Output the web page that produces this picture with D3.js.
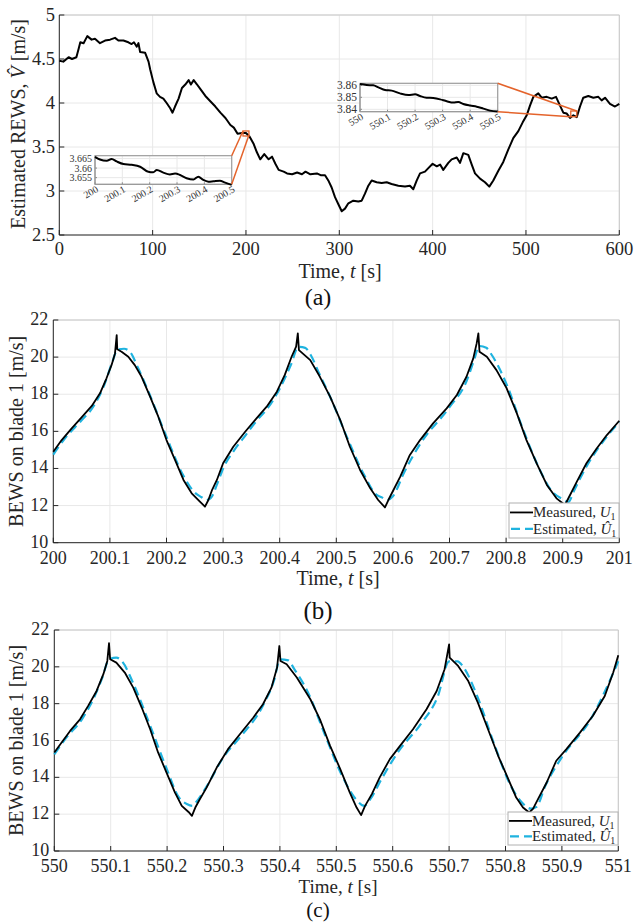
<!DOCTYPE html>
<html><head><meta charset="utf-8">
<script src="https://cdn.jsdelivr.net/npm/d3@7"></script>
<style>body{margin:0;background:#fff}svg{display:block}</style>
</head><body>
<svg id="c" width="635" height="922"></svg>
<script>
// ---------- DATA ----------
// Panel (a): estimated REWS over 600 s
const aTime = [0,4.3,10,13.6,18.3,20.8,22.5,26,30,34.6,38.2,43.6,49,54.4,59.7,63.3,68.7,74,77.5,80,83,84.8,86.6,92,95.6,97.4,100.7,104.3,107.9,111.5,115,118.8,121.3,124,127.8,131.4,135,138.6,141,144,147.6,151,156.5,161.8,167.2,172.6,178,183.3,187,191,195.7,200,203.8,208,211.7,215.3,219.6,224.3,227.9,231.5,235,240.4,244,249.5,254.8,260,263.8,269,276,280,284.7,288.2,291.8,295.4,299,302.6,306.1,309.7,315,320.4,324,327.5,331.1,334.7,340,345.4,350.8,356,363.2,370.4,375.7,379.3,383,386.5,391.8,395.4,400,404.4,408,411.4,416.8,420.4,425.8,429.3,432.9,438.2,441.9,445.4,450.8,456.1,460.7,465,470.4,475.7,481,486.4,491.8,496.5,500.8,504.3,507.9,513.2,516.8,522.2,527.6,532.2,536.5,540,543.7,547.2,550.8,554.4,557.9,561.4,566.8,572.2,577.5,581.1,584.7,590,595.4,600];
const aREWS = [4.48,4.47,4.52,4.50,4.52,4.62,4.69,4.68,4.76,4.72,4.73,4.68,4.71,4.72,4.74,4.71,4.71,4.69,4.67,4.69,4.64,4.68,4.58,4.57,4.47,4.38,4.24,4.11,4.07,4.05,4.00,3.94,3.89,3.96,4.05,4.17,4.21,4.26,4.21,4.26,4.21,4.16,4.08,4.02,3.96,3.89,3.83,3.75,3.72,3.65,3.66,3.66,3.62,3.54,3.44,3.36,3.42,3.36,3.39,3.31,3.24,3.22,3.20,3.19,3.21,3.19,3.22,3.19,3.20,3.18,3.18,3.12,3.04,2.93,2.85,2.77,2.80,2.86,2.89,2.88,2.89,2.97,3.06,3.12,3.10,3.09,3.10,3.08,3.06,3.05,3.06,3.02,3.12,3.20,3.22,3.26,3.31,3.28,3.30,3.24,3.32,3.36,3.38,3.32,3.43,3.41,3.30,3.20,3.14,3.10,3.05,3.12,3.23,3.33,3.47,3.60,3.68,3.78,3.86,3.97,4.07,4.11,4.06,4.07,4.05,4.07,3.97,3.89,3.88,3.83,3.86,3.84,3.96,4.06,4.08,4.06,4.07,4.03,4.06,3.99,3.96,3.99];
const aXTicks = [0,100,200,300,400,500,600];
const aYTicks = [2.5,3,3.5,4,4.5,5];

// Inset 1 (200-200.5 s)
const in1Time = [200,200.018,200.043,200.061,200.079,200.104,200.134,200.165,200.195,200.213,200.226,200.250,200.274,200.293,200.311,200.335,200.360,200.378,200.396,200.415,200.433,200.457,200.476,200.5];
const in1REWS = [3.6659,3.6645,3.6638,3.6648,3.6635,3.6621,3.6617,3.6607,3.6581,3.6578,3.6590,3.6576,3.6567,3.6571,3.6564,3.6547,3.6540,3.6555,3.6538,3.6529,3.6531,3.6534,3.6524,3.6512];
const in1XTicks = [200,200.1,200.2,200.3,200.4,200.5];
const in1XLabels = ["200","200.1","200.2","200.3","200.4","200.5"];
const in1YTicks = [3.655,3.66,3.665];
const in1YLabels = ["3.655","3.66","3.665"];

// Inset 2 (550-550.5 s)
const in2Time = [550,550.024,550.048,550.067,550.091,550.115,550.145,550.176,550.200,550.218,550.242,550.266,550.291,550.315,550.339,550.357,550.375,550.400,550.424,550.448,550.472,550.5];
const in2REWS = [3.8611,3.8603,3.8600,3.8583,3.8561,3.8556,3.8533,3.8519,3.8525,3.8511,3.8497,3.8494,3.8483,3.8467,3.8456,3.8461,3.8444,3.8431,3.8422,3.8406,3.8389,3.8381];
const in2XTicks = [550,550.1,550.2,550.3,550.4,550.5];
const in2XLabels = ["550","550.1","550.2","550.3","550.4","550.5"];
const in2YTicks = [3.84,3.85,3.86];
const in2YLabels = ["3.84","3.85","3.86"];

// zoom-region marks on panel (a): [tmin,tmax,vmin,vmax]
const zoomBox1 = [196.8,203.2,3.625,3.682];
const zoomBox2 = [548,554.4,3.844,3.909];

// Panel (b)
const bMeasT = [200,200.0148,200.0325,200.05,200.068,200.0825,200.094,200.103,200.109,200.112,200.113,200.1206,200.1325,200.144,200.156,200.171,200.1855,200.2,200.215,200.23,200.2445,200.259,200.268,200.274,200.28,200.289,200.3,200.318,200.339,200.359,200.377,200.395,200.409,200.421,200.429,200.432,200.434,200.454,200.471,200.489,200.507,200.524,200.542,200.56,200.574,200.586,200.592,200.601,200.613,200.63,200.648,200.671,200.695,200.713,200.73,200.742,200.748,200.751,200.753,200.766,200.783,200.801,200.819,200.836,200.854,200.872,200.889,200.904,200.913,200.925,200.942,200.96,200.978,201];
const bMeasV = [14.9,15.53,16.16,16.75,17.37,18.05,18.86,19.58,20.2,21.19,20.42,20.29,20.02,19.57,18.94,17.87,16.79,15.53,14.46,13.38,12.66,12.21,11.94,12.3,12.8,13.38,14.28,15.17,15.98,16.7,17.33,18.14,19.04,20.02,20.56,21.28,20.38,19.84,18.94,17.87,16.61,15.17,13.92,12.93,12.3,11.9,12.3,12.84,13.56,14.73,15.53,16.43,17.24,17.96,18.94,19.93,20.74,21.28,20.29,20.02,19.3,18.32,16.97,15.53,14.28,13.11,12.39,12.03,12.57,13.29,14.28,15.08,15.8,16.57];
const bEstT = [200,200.02,200.05,200.07,200.09,200.105,200.113,200.125,200.135,200.15,200.17,200.2,200.23,200.25,200.262,200.27,200.278,200.29,200.3,200.32,200.34,200.36,200.38,200.4,200.42,200.433,200.445,200.455,200.47,200.49,200.52,200.55,200.57,200.58,200.59,200.6,200.62,200.65,200.7,200.73,200.745,200.752,200.765,200.775,200.8,200.83,200.86,200.88,200.9,200.91,200.92,200.94,200.97,201];
const bEstV = [14.75,15.6,16.6,17.3,18.5,19.8,20.4,20.45,20.3,19.4,18.0,15.7,13.6,12.7,12.45,12.3,12.4,13.2,14.0,15.0,15.8,16.6,17.3,18.3,19.6,20.55,20.5,20.1,19.1,17.8,15.6,13.6,12.6,12.45,12.3,12.5,13.8,15.4,17.3,18.7,20.0,20.6,20.5,20.1,18.6,16.1,13.9,12.8,12.35,12.2,12.8,14.0,15.4,16.5];
const bXTicks = [200,200.1,200.2,200.3,200.4,200.5,200.6,200.7,200.8,200.9,201];
const bXLabels = ["200","200.1","200.2","200.3","200.4","200.5","200.6","200.7","200.8","200.9","201"];

// Panel (c)
const cMeasT = [550,550.013,550.028,550.0456,550.06,550.075,550.087,550.094,550.097,550.099,550.11,550.125,550.14,550.155,550.17,550.184,550.199,550.214,550.226,550.238,550.244,550.25,550.258,550.27,550.288,550.308,550.329,550.353,550.37,550.385,550.395,550.399,550.401,550.412,550.43,550.454,550.471,550.489,550.507,550.524,550.536,550.544,550.551,550.563,550.577,550.595,550.613,550.636,550.66,550.678,550.692,550.7,550.701,550.716,550.734,550.751,550.769,550.787,550.805,550.819,550.831,550.842,550.849,550.856,550.873,550.89,550.908,550.932,550.955,550.976,550.991,551];
const cMeasV = [15.35,15.89,16.52,17.15,17.88,18.69,19.6,20.32,21.28,20.41,20.23,19.69,18.87,17.79,16.61,15.35,14.26,13.17,12.45,12.12,11.91,12.36,12.81,13.44,14.53,15.53,16.34,17.25,17.97,18.87,19.96,21.13,20.32,20.14,19.42,18.24,17.15,15.71,14.45,13.17,12.36,11.95,12.45,13.09,14.0,14.99,15.71,16.61,17.7,18.69,19.87,21.22,20.5,20.05,19.23,18.06,16.61,15.17,13.9,12.9,12.36,12.09,12.3,12.72,13.72,14.9,15.53,16.43,17.34,18.42,19.69,20.63];
const cEstT = [550,550.02,550.05,550.07,550.085,550.097,550.11,550.12,550.14,550.17,550.2,550.22,550.235,550.245,550.25,550.27,550.3,550.33,550.37,550.39,550.4,550.415,550.425,550.45,550.48,550.51,550.535,550.55,550.56,550.58,550.61,550.65,550.68,550.7,550.715,550.725,550.75,550.78,550.81,550.83,550.845,550.855,550.87,550.9,550.95,551];
const cEstV = [15.25,16.1,17.2,18.3,19.4,20.4,20.5,20.3,19.1,16.8,14.4,12.95,12.55,12.45,12.6,13.5,15.1,16.2,17.9,19.3,20.4,20.35,19.9,18.6,16.3,14.1,12.8,12.45,12.8,13.9,15.4,16.9,18.4,20.3,20.3,20.0,18.4,15.8,13.5,12.6,12.3,12.4,13.5,15.1,17.1,20.3];
const cXTicks = [550,550.1,550.2,550.3,550.4,550.5,550.6,550.7,550.8,550.9,551];
const cXLabels = ["550","550.1","550.2","550.3","550.4","550.5","550.6","550.7","550.8","550.9","551"];
const bcYTicks = [10,12,14,16,18,20,22];

// ---------- DRAWING ----------
const svg = d3.select("#c");
const FONT = "'Liberation Serif','DejaVu Serif',serif";
const GRID = "#e8e8e8", AXC = "#262626", TXT = "#262626";
const ORANGE = "#e4632b", CYAN = "#1fb3df";

function frame(g, x, y, xt, xl, yt, yl, o) {
  const [x0,x1] = x.range(), [y1,y0] = y.range();
  g.selectAll(null).data(xt).join("line").attr("x1",d=>x(d)).attr("x2",d=>x(d))
    .attr("y1",y0).attr("y2",y1).attr("stroke",GRID).attr("stroke-width",1);
  g.selectAll(null).data(yt).join("line").attr("y1",d=>y(d)).attr("y2",d=>y(d))
    .attr("x1",x0).attr("x2",x1).attr("stroke",GRID).attr("stroke-width",1);
  g.append("line").attr("x1",x0).attr("x2",x1).attr("y1",y0).attr("y2",y0).attr("stroke","#c8c8c8");
  g.append("line").attr("x1",x1).attr("x2",x1).attr("y1",y0).attr("y2",y1).attr("stroke","#c8c8c8");
  g.append("line").attr("x1",x0).attr("x2",x1).attr("y1",y1).attr("y2",y1).attr("stroke",o.axc||AXC);
  g.append("line").attr("x1",x0).attr("x2",x0).attr("y1",y0).attr("y2",y1).attr("stroke",o.axc||AXC);
  g.selectAll(null).data(xt).join("line").attr("x1",d=>x(d)).attr("x2",d=>x(d))
    .attr("y1",y1).attr("y2",y1-o.tl).attr("stroke",o.axc||AXC);
  g.selectAll(null).data(yt).join("line").attr("y1",d=>y(d)).attr("y2",d=>y(d))
    .attr("x1",x0).attr("x2",x0+o.tl).attr("stroke",o.axc||AXC);
}

// Panel (a)
(function(){
  const g = svg.append("g");
  const x = d3.scaleLinear().domain([0,600]).range([59.3,619.3]);
  const y = d3.scaleLinear().domain([2.5,5]).range([235,15]);
  frame(g,x,y,aXTicks,null,aYTicks,null,{tl:5});
  g.selectAll(null).data(aXTicks).join("text").attr("x",d=>x(d)).attr("y",255)
    .attr("text-anchor","middle").attr("font-family",FONT).attr("font-size",18.5).attr("fill",TXT).text(d=>d);
  g.selectAll(null).data(aYTicks).join("text").attr("x",55).attr("y",d=>y(d)+6)
    .attr("text-anchor","end").attr("font-family",FONT).attr("font-size",18.5).attr("fill",TXT).text(d=>d);
  const line = d3.line().x((d,i)=>x(aTime[i])).y(d=>y(d));
  g.append("path").attr("d",line(aREWS)).attr("fill","none").attr("stroke","#000").attr("stroke-width",2).attr("stroke-linejoin","round");
  const yl = g.append("text").attr("transform","translate(25,124) rotate(-90)").attr("text-anchor","middle")
    .attr("font-family",FONT).attr("font-size",20).attr("fill",TXT);
  yl.append("tspan").text("Estimated REWS, ");
  yl.append("tspan").attr("font-style","italic").text("V\u0302");
  yl.append("tspan").text(" [m/s]");
  const xl = g.append("text").attr("x",340).attr("y",278).attr("text-anchor","middle")
    .attr("font-family",FONT).attr("font-size",20).attr("fill",TXT);
  xl.append("tspan").text("Time, ");
  xl.append("tspan").attr("font-style","italic").text("t");
  xl.append("tspan").text(" [s]");
  g.append("text").attr("x",318).attr("y",305).attr("text-anchor","middle").attr("font-family",FONT)
    .attr("font-size",24).attr("fill","#111").text("(a)");

  function zbox(b){
    g.append("rect").attr("x",x(b[0])).attr("y",y(b[3])).attr("width",x(b[1])-x(b[0])).attr("height",y(b[2])-y(b[3]))
      .attr("fill","none").attr("stroke",ORANGE).attr("stroke-width",1.3);
  }
  zbox(zoomBox1); zbox(zoomBox2);

  function inset(T,V,xt,xlab,yt,ylab,dx,dy,rx,ry,conn,fs){
    const ig = g.append("g");
    const ix = d3.scaleLinear().domain(dx).range(rx);
    const iy = d3.scaleLinear().domain(dy).range(ry);
    ig.append("rect").attr("x",rx[0]).attr("y",ry[1]).attr("width",rx[1]-rx[0]).attr("height",ry[0]-ry[1]).attr("fill","#fff");
    frame(ig,ix,iy,xt,null,yt,null,{tl:2,axc:"#8a8a8a"});
    ig.append("rect").attr("x",rx[0]).attr("y",ry[1]).attr("width",rx[1]-rx[0]).attr("height",ry[0]-ry[1])
      .attr("fill","none").attr("stroke","#9a9a9a").attr("stroke-width",1);
    const l = d3.line().x((d,i)=>ix(T[i])).y(d=>iy(d)).curve(d3.curveMonotoneX);
    ig.append("path").attr("d",l(V)).attr("fill","none").attr("stroke","#000").attr("stroke-width",2);
    ig.selectAll(null).data(yt).join("text").attr("x",rx[0]-3).attr("y",(d)=>iy(d)+fs*0.35).attr("text-anchor","end")
      .attr("font-family",FONT).attr("font-size",fs).attr("fill","#333").text((d,i)=>ylab[i]);
    ig.selectAll(null).data(xt).join("text")
      .attr("transform",d=>`translate(${ix(d)+4},${ry[0]+7}) rotate(-30)`).attr("text-anchor","end")
      .attr("font-family",FONT).attr("font-size",10).attr("fill","#333").text((d,i)=>xlab[i]);
    conn.forEach(c=>{
      ig.append("line").attr("x1",rx[1]).attr("y1",c[0]==="tr"?ry[1]:ry[0])
        .attr("x2",x(c[1])).attr("y2",y(c[2])).attr("stroke",ORANGE).attr("stroke-width",1.5);
    });
  }
  inset(in1Time,in1REWS,in1XTicks,in1XLabels,in1YTicks,in1YLabels,[200,200.5],[3.6515,3.6665],[95,231.7],[184.3,155.7],
    [["tr",zoomBox1[0],zoomBox1[3]],["br",zoomBox1[1],zoomBox1[2]+0.01]],10);
  inset(in2Time,in2REWS,in2XTicks,in2XLabels,in2YTicks,in2YLabels,[550,550.5],[3.838,3.8617],[360,497.7],[111.7,83.3],
    [["tr",zoomBox2[1],zoomBox2[3]],["br",zoomBox2[0],zoomBox2[2]]],11.5);
})();

function bladePanel(o){
  const g = svg.append("g");
  const x = d3.scaleLinear().domain(o.xd).range(o.xr);
  const y = d3.scaleLinear().domain([10,22]).range(o.yr);
  frame(g,x,y,o.xt,null,bcYTicks,null,{tl:5});
  g.selectAll(null).data(o.xt).join("text").attr("x",d=>x(d)).attr("y",o.yr[0]+21)
    .attr("text-anchor","middle").attr("font-family",FONT).attr("font-size",18).attr("fill",TXT).text((d,i)=>o.xl[i]);
  g.selectAll(null).data(bcYTicks).join("text").attr("x",o.xr[0]-5).attr("y",d=>y(d)+5)
    .attr("text-anchor","end").attr("font-family",FONT).attr("font-size",18).attr("fill",TXT).text(d=>d);
  const lm = d3.line().x((d,i)=>x(o.mt[i])).y(d=>y(d));
  const le = d3.line().x((d,i)=>x(o.et[i])).y(d=>y(d)).curve(d3.curveMonotoneX);
  g.append("path").attr("d",le(o.ev)).attr("fill","none").attr("stroke",CYAN).attr("stroke-width",2.2).attr("stroke-dasharray","9,5");
  g.append("path").attr("d",lm(o.mv)).attr("fill","none").attr("stroke","#000").attr("stroke-width",1.8).attr("stroke-linejoin","round");
  const mid = (o.yr[0]+o.yr[1])/2;
  g.append("text").attr("transform",`translate(23,${mid}) rotate(-90)`).attr("text-anchor","middle")
    .attr("font-family",FONT).attr("font-size",20).attr("fill",TXT).text("BEWS on blade 1 [m/s]");
  const xl = g.append("text").attr("x",338).attr("y",o.yr[0]+o.xlOff).attr("text-anchor","middle")
    .attr("font-family",FONT).attr("font-size",o.xlFs).attr("fill",TXT);
  xl.append("tspan").text("Time, ");
  xl.append("tspan").attr("font-style","italic").text("t");
  xl.append("tspan").text(" [s]");
  g.append("text").attr("x",318).attr("y",o.yr[0]+o.labOff).attr("text-anchor","middle").attr("font-family",FONT)
    .attr("font-size",o.labFs).attr("fill","#111").text(o.lab);
  const L = o.leg;
  const lg = g.append("g");
  lg.append("rect").attr("x",L[0]).attr("y",L[1]).attr("width",L[2]).attr("height",L[3]).attr("fill","#fff").attr("stroke","#b0b0b0");
  const r1 = L[1]+L[3]*0.27, r2 = L[1]+L[3]*0.74;
  lg.append("line").attr("x1",L[0]+1).attr("x2",L[0]+24).attr("y1",r1).attr("y2",r1).attr("stroke","#000").attr("stroke-width",1.8);
  lg.append("line").attr("x1",L[0]+2).attr("x2",L[0]+24).attr("y1",r2).attr("y2",r2).attr("stroke",CYAN).attr("stroke-width",2.2).attr("stroke-dasharray","9,5");
  const t1 = lg.append("text").attr("x",L[0]+24).attr("y",r1+5).attr("font-family",FONT).attr("font-size",15).attr("fill",TXT);
  t1.append("tspan").text("Measured, ");
  t1.append("tspan").attr("font-style","italic").text("U");
  t1.append("tspan").attr("font-size",10).attr("dy",3).text("1");
  const t2 = lg.append("text").attr("x",L[0]+24).attr("y",r2+5).attr("font-family",FONT).attr("font-size",15).attr("fill",TXT);
  t2.append("tspan").text("Estimated, ");
  t2.append("tspan").attr("font-style","italic").text("U\u0302");
  t2.append("tspan").attr("font-size",10).attr("dy",3).text("1");
}
bladePanel({xd:[200,201],xr:[53.3,619.3],yr:[542.7,320],xt:bXTicks,xl:bXLabels,mt:bMeasT,mv:bMeasV,et:bEstT,ev:bEstV,lab:"(b)",leg:[509,503,110,35],xlOff:42,xlFs:20,labOff:76,labFs:25});
bladePanel({xd:[550,551],xr:[54.3,618.3],yr:[851,630],xt:cXTicks,xl:cXLabels,mt:cMeasT,mv:cMeasV,et:cEstT,ev:cEstV,lab:"(c)",leg:[508,812,110,33],xlOff:42,xlFs:19,labOff:66,labFs:21});
</script>
</body></html>
